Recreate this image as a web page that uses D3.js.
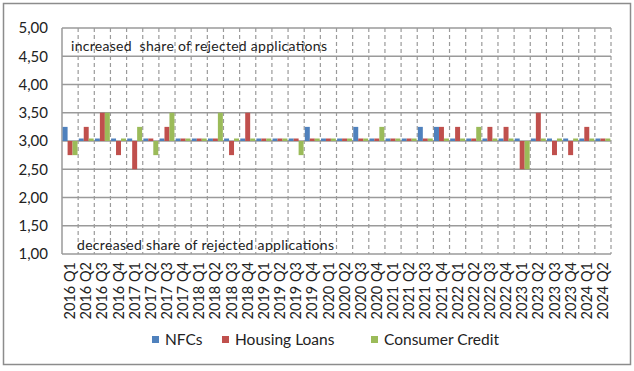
<!DOCTYPE html>
<html><head><meta charset="utf-8">
<script src="https://cdn.jsdelivr.net/npm/d3@7"></script>
<style>
html,body{margin:0;padding:0;background:#fff;}
svg{display:block;font-family:Lato, "Open Sans", sans-serif;}
.ann{white-space:pre;}
</style></head>
<body>
<svg id="chart" width="634" height="371"></svg>
<script>
const categories = ["2016 Q1","2016 Q2","2016 Q3","2016 Q4","2017 Q1","2017 Q2","2017 Q3","2017 Q4",
"2018 Q1","2018 Q2","2018 Q3","2018 Q4","2019 Q1","2019 Q2","2019 Q3","2019 Q4",
"2020 Q1","2020 Q2","2020 Q3","2020 Q4","2021 Q1","2021 Q2","2021 Q3","2021 Q4",
"2022 Q1","2022 Q2","2022 Q3","2022 Q4","2023 Q1","2023 Q2","2023 Q3","2023 Q4","2024 Q1","2024 Q2"];
const nfcs = [3.25,3,3,3,3,3,3,3, 3,3,3,3,3,3,3,3.25, 3,3,3.25,3,3,3,3.25,3.25, 3,3,3,3,3,3,3,3,3,3];
const housingLoans = [2.75,3.25,3.5,2.75,2.5,3,3.25,3, 3,3,2.75,3.5,3,3,3,3, 3,3,3,3,3,3,3,3.25, 3.25,3,3.25,3.25,2.5,3.5,2.75,2.75,3.25,3];
const consumerCredit = [2.75,3,3.5,3,3.25,2.75,3.5,3, 3,3.5,3,3,3,3,2.75,3, 3,3,3,3.25,3,3,3,3, 3,3.25,3,3,2.5,3,3,3,3,3];
const seriesNames = ["NFCs","Housing Loans","Consumer Credit"];
const seriesColors = ["#4F81BD","#C0504D","#9BBB59"];
const yTicks = [1,1.5,2,2.5,3,3.5,4,4.5,5];
const baseline = 3;
const annotations = ["increased  share of rejected applications","decreased share of rejected applications"];

const svg = d3.select("#chart");
const L = 62, R = 611, T = 28, B = 254;

svg.append("rect").attr("x",3.5).attr("y",3.5).attr("width",627).attr("height",361)
  .attr("fill","#fff").attr("stroke","#8c8c8c").attr("stroke-width",1.5);

const x0 = d3.scaleBand().domain(categories).range([L,R]).paddingInner(0).paddingOuter(0);
const x1 = d3.scaleBand().domain(seriesNames).range([0,x0.bandwidth()]).paddingInner(0).paddingOuter(0.125);
const y = d3.scaleLinear().domain([1,5]).range([B,T]);

svg.append("g").selectAll("line").data(yTicks).join("line")
  .attr("x1",L).attr("x2",R).attr("y1",d=>y(d)).attr("y2",d=>y(d))
  .attr("stroke","#9a9a9a").attr("stroke-width",1.5);
svg.append("g").selectAll("line").data(categories).join("line")
  .attr("x1",d=>x0(d)+x0.step()).attr("x2",d=>x0(d)+x0.step())
  .attr("y1",T).attr("y2",B)
  .attr("stroke","#9a9a9a").attr("stroke-width",1.2).attr("stroke-dasharray","4,3");
svg.append("line").attr("x1",L).attr("x2",L).attr("y1",T).attr("y2",B)
  .attr("stroke","#9a9a9a").attr("stroke-width",1.5);

const seriesData = [nfcs, housingLoans, consumerCredit];
seriesData.forEach((vals,si)=>{
  svg.append("g").selectAll("rect").data(vals).join("rect")
    .attr("x",(d,i)=>x0(categories[i])+x1(seriesNames[si]))
    .attr("width",x1.bandwidth())
    .attr("y",d=>{ const h=Math.abs(y(d)-y(baseline)); return h<2 ? y(baseline)-2.5 : Math.min(y(d),y(baseline)); })
    .attr("height",d=>{ const h=Math.abs(y(d)-y(baseline)); return h<2 ? 2.5 : h; })
    .attr("fill",seriesColors[si]);
});

const yAxis = d3.axisLeft(y).tickValues(yTicks).tickSize(0).tickPadding(14)
  .tickFormat(d=>d3.format(".2f")(d).replace(".",","));
const ya = svg.append("g").attr("transform",`translate(${L},0)`).call(yAxis);
ya.select(".domain").remove();
ya.selectAll("text").attr("font-size",15).attr("font-family","Lato, sans-serif").attr("fill","#222");

const xAxis = d3.axisBottom(x0).tickSize(0).tickPadding(0);
const xa = svg.append("g").attr("transform",`translate(0,${B})`).call(xAxis);
xa.select(".domain").remove();
xa.selectAll("text").attr("font-size",14.5).attr("font-family","Lato, sans-serif").attr("fill","#222")
  .attr("transform","rotate(-90)").attr("text-anchor","end").attr("x",-8).attr("y",0).attr("dy","0.35em");

svg.append("text").attr("class","ann").attr("x",71).attr("y",51).text(annotations[0])
  .attr("font-size",14).attr("textLength",256).attr("lengthAdjust","spacing").attr("fill","#222");
svg.append("text").attr("class","ann").attr("x",77).attr("y",250).text(annotations[1])
  .attr("font-size",14).attr("textLength",257).attr("lengthAdjust","spacing").attr("fill","#222");

const legendX = [152,222,371];
const lg = svg.append("g");
seriesNames.forEach((n,i)=>{
  lg.append("rect").attr("x",legendX[i]).attr("y",336).attr("width",7).attr("height",7).attr("fill",seriesColors[i]);
  lg.append("text").attr("x",legendX[i]+13).attr("y",344.5).text(n).attr("font-size",15.5).attr("fill","#222");
});
</script>
</body></html>
